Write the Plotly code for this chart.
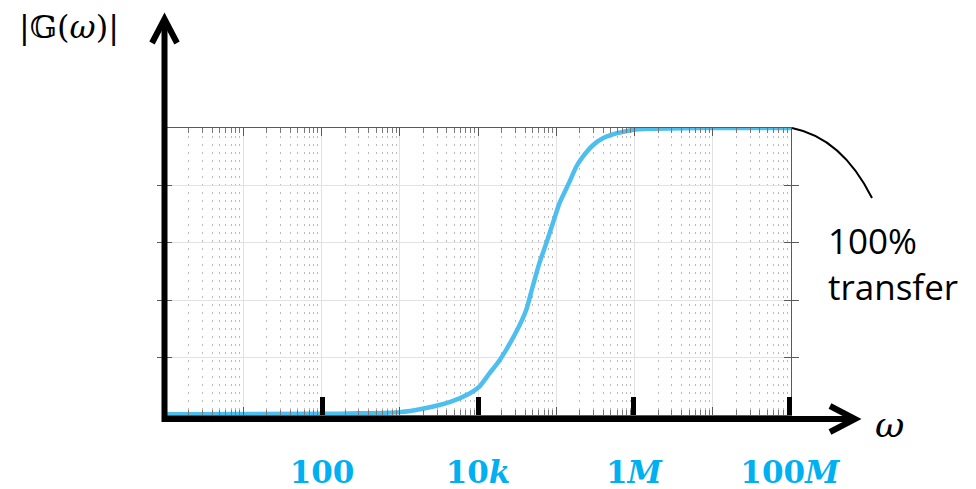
import plotly.graph_objects as go

# ---- data ----
freq = [1, 100, 300, 1000, 1950, 4350, 7800, 1.05e4, 1.4e4, 1.88e4, 3.08e4,
        4.13e4, 4.98e4, 6.1e4, 7.45e4, 9.05e4, 1.1e5, 1.48e5, 1.8e5, 2.19e5,
        2.94e5, 3.94e5, 5.85e5, 9.4e5, 1.56e6, 6.8e6, 1e8]
mag = [0.003, 0.004, 0.006, 0.01, 0.022, 0.045, 0.075, 0.10, 0.145, 0.19, 0.29,
       0.366, 0.446, 0.53, 0.598, 0.668, 0.738, 0.813, 0.865, 0.90,
       0.94, 0.964, 0.981, 0.993, 0.997, 1.0, 1.0]

decade_ticks = [1, 10, 100, 1e3, 1e4, 1e5, 1e6, 1e7, 1e8]
label_ticks = [1e2, 1e4, 1e6, 1e8]
label_text = ["<b>100</b>", "<b>10<i>k</i></b>", "<b>1<i>M</i></b>", "<b>100<i>M</i></b>"]
y_ticks = [0, 0.2, 0.4, 0.6, 0.8, 1.0]

W, H = 976, 489
L, R, T, B = 165, 185, 128, 74
PW, PH = W - L - R, H - T - B


def px(x):
    return (x - L) / PW


def py(y):
    return (H - B - y) / PH


fig = go.Figure()
fig.add_trace(go.Scatter(
    x=freq, y=mag, mode="lines",
    line=dict(color="rgb(77,190,238)", width=4.5, shape="spline", smoothing=0.6),
    cliponaxis=False, showlegend=False, hoverinfo="skip",
))
# invisible trace to activate the overlay axis with big ticks/labels
fig.add_trace(go.Scatter(x=[1, 1e8], y=[0, 1], xaxis="x2", mode="markers",
                         marker=dict(opacity=0), showlegend=False, hoverinfo="skip"))

grid_major = "rgb(226,226,226)"
fig.update_layout(
    width=W, height=H,
    margin=dict(l=L, r=R, t=T, b=B, autoexpand=False),
    paper_bgcolor="white", plot_bgcolor="white",
    xaxis=dict(
        type="log", range=[0, 8], automargin=False,
        tickvals=decade_ticks, showticklabels=False,
        ticks="inside", ticklen=8, tickwidth=1, tickcolor="rgb(90,90,90)",
        showgrid=True, gridcolor=grid_major, gridwidth=1,
        showline=True, linecolor="rgb(90,90,90)", linewidth=1, mirror="allticks",
        zeroline=False,
        minor=dict(dtick="D1", ticks="inside", ticklen=5, tickcolor="rgb(120,120,120)",
                   showgrid=True, gridcolor="rgb(185,185,185)", griddash="2px,6px",
                   gridwidth=1),
    ),
    xaxis2=dict(
        type="log", range=[-0.015, 8.015], overlaying="x", side="bottom",
        anchor="free", position=0,
        automargin=False,
        tickvals=label_ticks, ticktext=label_text,
        ticks="inside", ticklen=18, tickwidth=5, tickcolor="black",
        tickfont=dict(family="DejaVu Serif", size=31, color="#00B0F0"),
        ticklabelstandoff=30,
        showgrid=False, zeroline=False,
        showline=True, linecolor="rgba(0,0,0,0)", linewidth=1,
    ),
    yaxis=dict(
        range=[0, 1], tickvals=y_ticks, showticklabels=False, automargin=False,
        ticks="inside", ticklen=7, tickcolor="rgb(90,90,90)",
        showgrid=True, gridcolor=grid_major, gridwidth=1,
        showline=True, linecolor="rgb(90,90,90)", linewidth=1, mirror="allticks",
        zeroline=False,
    ),
)

# black axis arrows
shapes = []
shapes.append(dict(type="line", xref="paper", yref="paper",
                   x0=px(162), y0=py(419), x1=px(853), y1=py(419),
                   line=dict(color="black", width=6)))
shapes.append(dict(type="path", xref="paper", yref="paper",
                   path=f"M {px(830)} {py(406)} L {px(855)} {py(419)} L {px(830)} {py(432)}",
                   line=dict(color="black", width=6)))
shapes.append(dict(type="line", xref="paper", yref="paper",
                   x0=px(164.5), y0=py(422), x1=px(164.5), y1=py(21),
                   line=dict(color="black", width=6)))
shapes.append(dict(type="path", xref="paper", yref="paper",
                   path=f"M {px(152)} {py(43)} L {px(164.5)} {py(19)} L {px(177)} {py(43)}",
                   line=dict(color="black", width=6)))
# callout curve
shapes.append(dict(type="path", xref="paper", yref="paper",
                   path=f"M {px(792)} {py(128)} Q {px(842)} {py(138)} {px(872)} {py(198)}",
                   line=dict(color="black", width=2)))
fig.update_layout(shapes=shapes)

fig.add_annotation(xref="paper", yref="paper", x=px(69), y=py(27),
                   xanchor="center", yanchor="middle", showarrow=False,
                   text="|𝔾(<i>ω</i>)|",
                   font=dict(family="DejaVu Serif, DejaVu Sans", size=32, color="black"))
fig.add_annotation(xref="paper", yref="paper", x=px(890), y=py(424),
                   xanchor="center", yanchor="middle", showarrow=False,
                   text="<i>ω</i>",
                   font=dict(family="DejaVu Serif", size=36, color="black"))
fig.add_annotation(xref="paper", yref="paper", x=px(826), y=py(263),
                   xanchor="left", yanchor="middle", showarrow=False, align="left",
                   text="100%<br>transfer",
                   font=dict(family="Open Sans", size=35, color="black"))

fig.write_html("out.html", config={"displayModeBar": False},
               post_script="document.body.style.margin='0';")
